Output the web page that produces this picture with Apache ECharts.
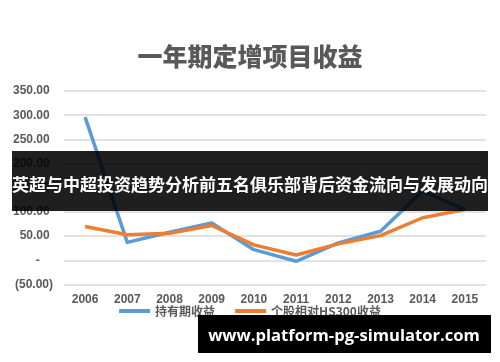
<!DOCTYPE html>
<html>
<head>
<meta charset="utf-8">
<script src="https://cdn.jsdelivr.net/npm/echarts@6/dist/echarts.min.js"></script>
<style>html,body{margin:0;padding:0;background:#fff;}#c{width:500px;height:362px;}</style>
</head>
<body>
<div id="c"></div>
<script>
const categories = ['2006','2007','2008','2009','2010','2011','2012','2013','2014','2015'];
const holdReturn = [296, 37, 58, 77, 22, -2, 36, 60, 143, 105];
const relHS300 = [70, 53, 56, 72, 32, 11, 34, 51, 88, 105];
const seriesNames = ['持有期收益', '个股相对HS300收益'];
const titleText = '一年期定增项目收益';
const bannerText = '英超与中超投资趋势分析前五名俱乐部背后资金流向与发展动向';
const urlText = 'www.platform-pg-simulator.com';

function fitFont(text, family, weight, targetWidth) {
  const ctx = document.createElement('canvas').getContext('2d');
  ctx.font = weight + ' 100px ' + family;
  const w = ctx.measureText(text).width;
  return Math.round(100 * targetWidth / w * 10) / 10;
}
const urlFamily = '"Open Sans", sans-serif';
const urlSize = fitFont(urlText, urlFamily, 'bold', 271);

const chart = echarts.init(document.getElementById('c'), null, {renderer: 'canvas'});
const labelColor = '#595959';
chart.setOption({
  animation: false,
  backgroundColor: '#fff',
  title: {
    text: titleText, left: 'center', top: 39,
    textStyle: {fontSize: 25, fontWeight: 900, color: labelColor, fontFamily: '"Noto Sans CJK SC", sans-serif'}
  },
  grid: {left: 64, right: 14, top: 91, bottom: 77.5, containLabel: false},
  legend: {
    data: seriesNames, left: 'center', top: 300, icon: 'rect', itemWidth: 31, itemHeight: 4, itemGap: 20,
    textStyle: {fontSize: 12, fontWeight: 'bold', color: labelColor, fontFamily: '"Noto Sans CJK SC", sans-serif'}
  },
  xAxis: {
    type: 'category', data: categories, boundaryGap: true,
    axisLine: {show: false, onZero: true}, axisTick: {show: false},
    axisLabel: {margin: 9, fontSize: 12, fontWeight: 'bold', color: labelColor, fontFamily: '"Liberation Sans", Arial, sans-serif'}
  },
  yAxis: {
    type: 'value', min: -50, max: 350, interval: 50,
    axisLine: {show: false}, axisTick: {show: false},
    splitLine: {lineStyle: {color: '#D9D9D9', width: 1.5}},
    axisLabel: {
      margin: 11, fontSize: 12, fontWeight: 'bold', color: labelColor, fontFamily: '"Liberation Sans", Arial, sans-serif',
      formatter: function (v) {
        if (v === 0) return '-    ';
        if (v < 0) return '(' + Math.abs(v).toFixed(2) + ')';
        return v.toFixed(2) + ' ';
      }
    }
  },
  series: [
    {name: seriesNames[0], type: 'line', data: holdReturn, showSymbol: false, symbol: 'none',
     lineStyle: {color: '#5B9BD5', width: 3.5, join: 'round'}, itemStyle: {color: '#5B9BD5'}, z: 2},
    {name: seriesNames[1], type: 'line', data: relHS300, showSymbol: false, symbol: 'none',
     lineStyle: {color: '#ED7D31', width: 3.5, join: 'round'}, itemStyle: {color: '#ED7D31'}, z: 3}
  ],
  graphic: [
    {type: 'rect', x: 12, y: 151, shape: {width: 476, height: 60}, style: {fill: 'rgba(0,0,0,0.88)'}, z: 100},
    {type: 'text', x: 250, y: 185, z: 101,
     style: {text: bannerText, fill: '#fff', font: 'bold 17px "Noto Sans CJK SC", sans-serif', textAlign: 'center', textVerticalAlign: 'middle'}},
    {type: 'rect', x: 198, y: 315, shape: {width: 293, height: 38}, style: {fill: '#000'}, z: 100},
    {type: 'text', x: 344, y: 336, z: 101,
     style: {text: urlText, fill: '#fff', font: 'bold ' + urlSize + 'px ' + urlFamily, textAlign: 'center', textVerticalAlign: 'middle'}}
  ]
});
</script>
</body>
</html>
